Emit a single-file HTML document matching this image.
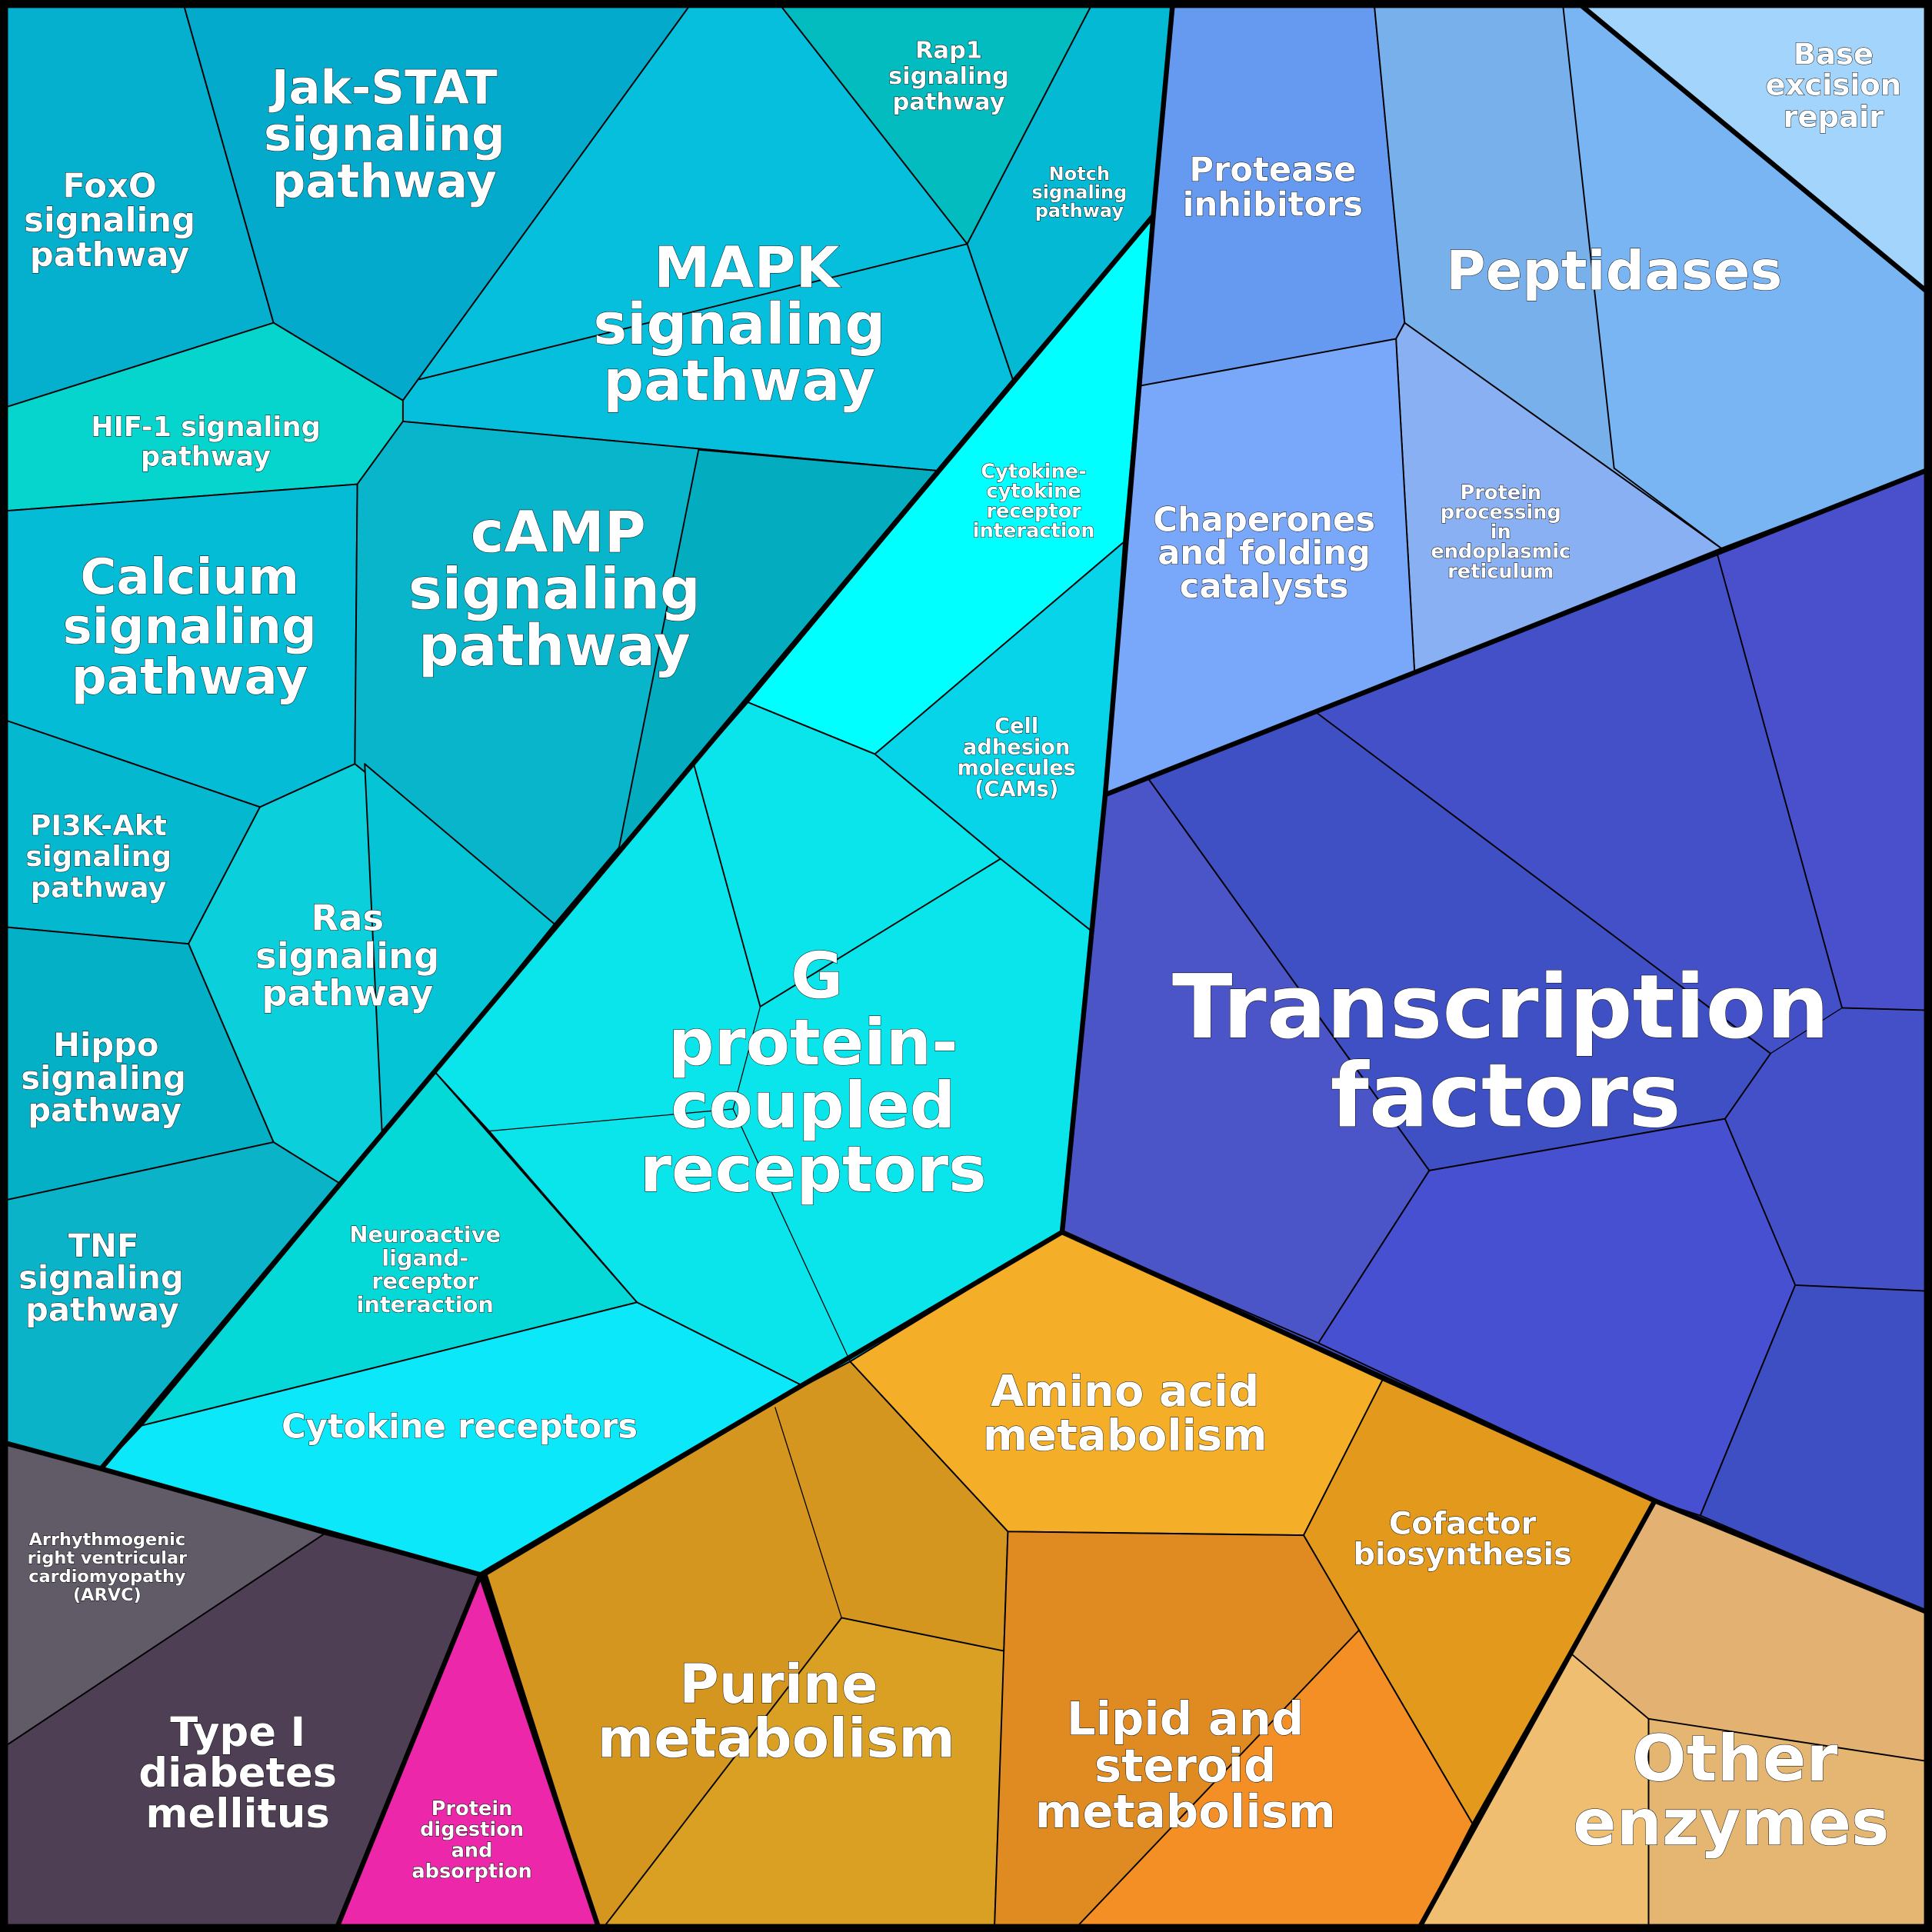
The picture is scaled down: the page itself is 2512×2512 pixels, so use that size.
<!DOCTYPE html>
<html><head><meta charset="utf-8"><style>html,body{margin:0;padding:0;background:#000}svg{display:block}
text{font-family:"DejaVu Sans","Liberation Sans",sans-serif;font-weight:bold;fill:#fff;text-anchor:middle;stroke:#000;stroke-width:0.6;paint-order:stroke}
</style></head><body>
<svg width="2512" height="2512" viewBox="0 0 1568 1568" xmlns="http://www.w3.org/2000/svg">
<rect width="1568" height="1568" fill="#000"/>
<g stroke="#000" stroke-width="1.2" stroke-linejoin="round">
<polygon fill="#05b0cf" points="0,0 148,0 222,262 0,332"/>
<polygon fill="#03aacb" points="148,0 563,0 327,325 222,262"/>
<polygon fill="#06bfdc" points="563,0 630,0 785,198 822,308 760,382 327,342 327,325"/>
<line x1="340" y1="308" x2="785" y2="198"/>
<polygon fill="#02bcc0" points="630,0 888,0 785,198"/>
<polygon fill="#03b9d4" points="888,0 952,0 936,175 822,308 785,198"/>
<polygon fill="#05d5cc" points="0,332 222,262 327,325 327,342 290,393 0,415"/>
<polygon fill="#04bcd6" points="0,415 290,393 288,620 211,655 0,583"/>
<polygon fill="#08b5cb" points="290,393 327,342 760,382 450,750 288,620"/>
<polygon fill="#03adbf" points="567,365 760,382 502,690"/>
<polygon fill="#04b8d0" points="0,583 211,655 153,766 0,752"/>
<polygon fill="#0bcfda" points="211,655 288,620 450,750 353,870 275,960 222,927 153,766"/>
<polygon fill="#05c4d6" points="296,620 450,750 353,870 310,918"/>
<polygon fill="#04b0c6" points="0,752 153,766 222,927 0,975"/>
<polygon fill="#0bb3c8" points="0,975 222,927 275,960 82,1192 0,1170"/>
<polygon fill="#00ffff" points="936,175 912,440 710,612 607,570"/>
<polygon fill="#07d4e8" points="912,440 897,645 885,755 812,697 710,612"/>
<polygon fill="#0ae5ec" points="607,570 710,612 812,697 885,755 862,1000 690,1105 652,1125 517,1057 397,918 353,870 450,750"/>
<polyline fill="none" points="563,620 617,817 812,697"/>
<polyline fill="none" stroke-width="0.8" points="617,817 595,900 690,1105"/>
<line stroke-width="0.8" x1="397" y1="918" x2="595" y2="900"/>
<polygon fill="#05d9d8" points="353,870 517,1057 115,1157"/>
<polygon fill="#0ae8fa" points="115,1157 517,1057 652,1125 395,1278 82,1192"/>
<polygon fill="#6699f0" points="952,0 1115,0 1140,262 1133,275 926,313 936,175"/>
<polygon fill="#78b0ec" points="1115,0 1278,0 1568,240 1568,380 1397,445 1140,262"/>
<polygon fill="#79b4f3" points="1268,0 1278,0 1568,240 1568,380 1397,445 1310,380"/>
<polygon fill="#a2d4fc" points="1278,0 1568,0 1568,240"/>
<polygon fill="#88b0f2" points="1133,275 1140,262 1397,445 1148,545"/>
<polygon fill="#79a8fb" points="926,313 1133,275 1148,545 897,645"/>
<polygon fill="#4350c8" points="897,645 1148,545 1568,380 1568,1310 1343,1218 862,1000"/>
<polygon fill="#4b55c8" points="897,645 932,632 1160,950 1070,1090 862,1000"/>
<polygon fill="#3f4fc4" points="932,632 1068,578 1437,855 1400,908 1160,950"/>
<polygon fill="#4a50cc" points="1393,447 1568,380 1568,820 1495,818"/>
<polygon fill="#4650d0" points="1160,950 1400,908 1457,1043 1380,1230 1343,1218 1070,1090"/>
<polygon fill="#3e4fc4" points="1457,1043 1568,1048 1568,1310 1380,1230"/>
<polyline fill="none" stroke-width="0.8" points="1393,447 1495,818 1437,855"/>
<polyline fill="none" stroke-width="0.8" points="1495,818 1568,820"/>
<line stroke-width="0.8" x1="1400" y1="908" x2="1437" y2="855"/>
<polygon fill="#d4961f" points="395,1278 652,1125 690,1105 818,1243 807,1568 487,1568"/>
<polygon fill="#d9a024" points="683,1313 815,1340 807,1568 487,1568"/>
<polyline fill="none" stroke-width="0.8" points="629,1142 683,1313 815,1340"/>
<polygon fill="#f5ae28" points="690,1105 862,1000 1122,1120 1058,1246 818,1243"/>
<polygon fill="#e3991b" points="1122,1120 1343,1218 1195,1480 1103,1323 1058,1246"/>
<polygon fill="#e08b22" points="818,1243 1058,1246 1103,1323 1195,1480 1150,1568 807,1568"/>
<polygon fill="#f48f25" points="1103,1323 1195,1480 1150,1568 870,1568"/>
<polygon fill="#e3b273" points="1343,1218 1568,1310 1568,1568 1150,1568"/>
<polygon fill="#efbe70" points="1275,1342 1338,1395 1338,1568 1150,1568"/>
<polygon fill="#e4b672" points="1338,1395 1568,1430 1568,1568 1338,1568"/>
<polygon fill="#615a67" points="0,1170 82,1192 263,1245 0,1420"/>
<polygon fill="#4e3f55" points="263,1245 390,1278 272,1568 0,1568 0,1420"/>
<polygon fill="#ec27a9" points="390,1278 487,1568 272,1568"/>
</g>
<g fill="none" stroke="#000" stroke-width="4" stroke-linejoin="round">
<polyline points="952,0 936,175 897,645 862,1000 390,1278 82,1192 0,1170"/>
<polyline points="936,175 82,1192"/>
<polyline points="897,645 1568,380"/>
<polyline points="1278,0 1568,240"/>
<polyline points="862,1000 1343,1218 1568,1310"/>
<polyline points="1343,1218 1150,1568"/>
<polyline points="272,1568 390,1278 487,1568"/>
<rect x="3" y="3" width="1562" height="1562" stroke-width="7"/>
</g>
<g>
<text font-size="27"><tspan x="89" y="160">FoxO</tspan><tspan x="89" y="188">signaling</tspan><tspan x="89" y="216">pathway</tspan></text>
<text font-size="38"><tspan x="312" y="84">Jak-STAT</tspan><tspan x="312" y="122">signaling</tspan><tspan x="312" y="160">pathway</tspan></text>
<text font-size="19"><tspan x="770" y="47">Rap1</tspan><tspan x="770" y="68">signaling</tspan><tspan x="770" y="89">pathway</tspan></text>
<text font-size="15"><tspan x="876" y="146">Notch</tspan><tspan x="876" y="161">signaling</tspan><tspan x="876" y="176">pathway</tspan></text>
<text font-size="46"><tspan x="606" y="233">MAPK</tspan><tspan x="600" y="279">signaling</tspan><tspan x="600" y="325">pathway</tspan></text>
<text font-size="22"><tspan x="167" y="354">HIF-1 signaling</tspan><tspan x="167" y="378">pathway</tspan></text>
<text font-size="40"><tspan x="154" y="482">Calcium</tspan><tspan x="154" y="522">signaling</tspan><tspan x="154" y="563">pathway</tspan></text>
<text font-size="46"><tspan x="453" y="448">cAMP</tspan><tspan x="450" y="494">signaling</tspan><tspan x="450" y="540">pathway</tspan></text>
<text font-size="23"><tspan x="80" y="678">PI3K-Akt</tspan><tspan x="80" y="703">signaling</tspan><tspan x="80" y="728">pathway</tspan></text>
<text font-size="29"><tspan x="282" y="755">Ras</tspan><tspan x="282" y="786">signaling</tspan><tspan x="282" y="816">pathway</tspan></text>
<text font-size="26"><tspan x="86" y="857">Hippo</tspan><tspan x="84" y="884">signaling</tspan><tspan x="85" y="910">pathway</tspan></text>
<text font-size="26"><tspan x="84" y="1020">TNF</tspan><tspan x="82" y="1046">signaling</tspan><tspan x="83" y="1072">pathway</tspan></text>
<text font-size="16"><tspan x="839" y="388">Cytokine-</tspan><tspan x="839" y="404">cytokine</tspan><tspan x="839" y="420">receptor</tspan><tspan x="839" y="436">interaction</tspan></text>
<text font-size="17"><tspan x="825" y="595">Cell</tspan><tspan x="825" y="612">adhesion</tspan><tspan x="825" y="629">molecules</tspan><tspan x="825" y="646">(CAMs)</tspan></text>
<text font-size="52"><tspan x="663" y="810">G</tspan><tspan x="660" y="864">protein-</tspan><tspan x="660" y="915">coupled</tspan><tspan x="660" y="967">receptors</tspan></text>
<text font-size="18"><tspan x="345" y="1008">Neuroactive</tspan><tspan x="345" y="1027">ligand-</tspan><tspan x="345" y="1046">receptor</tspan><tspan x="345" y="1065">interaction</tspan></text>
<text font-size="27" x="373" y="1167">Cytokine receptors</text>
<text font-size="27"><tspan x="1033" y="147">Protease</tspan><tspan x="1033" y="175">inhibitors</tspan></text>
<text font-size="44" x="1310" y="235">Peptidases</text>
<text font-size="24"><tspan x="1488" y="52">Base</tspan><tspan x="1488" y="77">excision</tspan><tspan x="1488" y="103">repair</tspan></text>
<text font-size="27"><tspan x="1026" y="431">Chaperones</tspan><tspan x="1026" y="458">and folding</tspan><tspan x="1026" y="485">catalysts</tspan></text>
<text font-size="16"><tspan x="1218" y="405">Protein</tspan><tspan x="1218" y="421">processing</tspan><tspan x="1218" y="437">in</tspan><tspan x="1218" y="453">endoplasmic</tspan><tspan x="1218" y="469">reticulum</tspan></text>
<text font-size="72"><tspan x="1218" y="842">Transcription</tspan><tspan x="1222" y="914">factors</tspan></text>
<text font-size="35"><tspan x="913" y="1141">Amino acid</tspan><tspan x="913" y="1177">metabolism</tspan></text>
<text font-size="25"><tspan x="1187" y="1245">Cofactor</tspan><tspan x="1187" y="1270">biosynthesis</tspan></text>
<text font-size="44"><tspan x="632" y="1382">Purine</tspan><tspan x="630" y="1426">metabolism</tspan></text>
<text font-size="37"><tspan x="962" y="1408">Lipid and</tspan><tspan x="962" y="1446">steroid</tspan><tspan x="962" y="1483">metabolism</tspan></text>
<text font-size="52"><tspan x="1408" y="1445">Other</tspan><tspan x="1405" y="1497">enzymes</tspan></text>
<text font-size="14"><tspan x="87" y="1254">Arrhythmogenic</tspan><tspan x="87" y="1269">right ventricular</tspan><tspan x="87" y="1284">cardiomyopathy</tspan><tspan x="87" y="1299">(ARVC)</tspan></text>
<text font-size="33"><tspan x="193" y="1417">Type I</tspan><tspan x="193" y="1450">diabetes</tspan><tspan x="193" y="1483">mellitus</tspan></text>
<text font-size="16"><tspan x="383" y="1473">Protein</tspan><tspan x="383" y="1490">digestion</tspan><tspan x="383" y="1507">and</tspan><tspan x="383" y="1524">absorption</tspan></text>
</g>
</svg>
</body></html>
